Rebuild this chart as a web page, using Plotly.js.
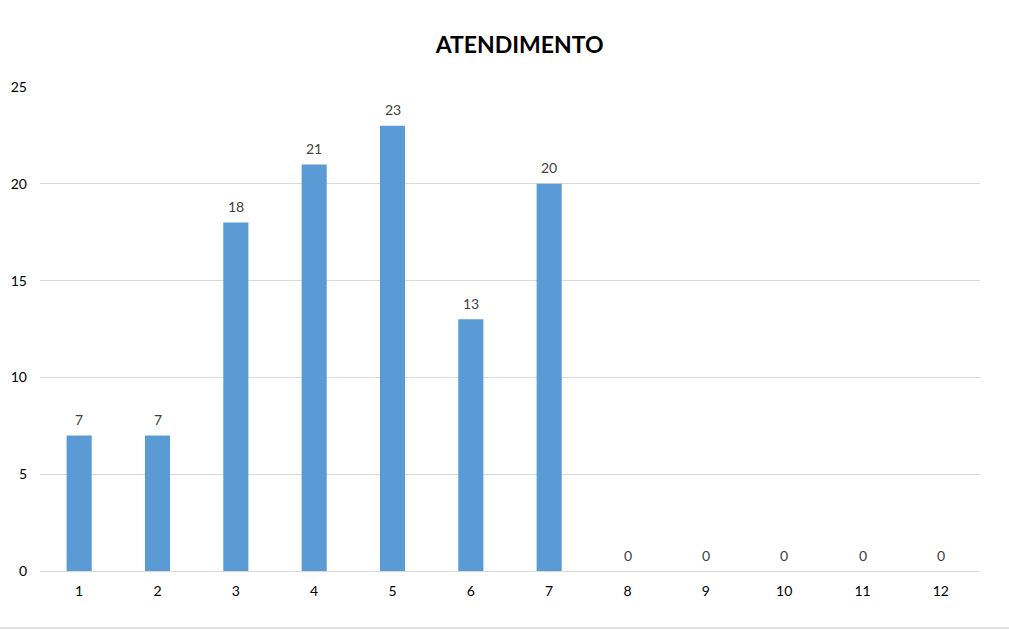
<!DOCTYPE html>
<html>
<head>
<meta charset="utf-8">
<script src="https://cdn.plot.ly/plotly-3.0.1.min.js"></script>
<style>
  html, body { margin: 0; padding: 0; background: #fff; }
  #chart { width: 1009px; height: 630px; }
</style>
</head>
<body>
<div id="chart"></div>
<script>
// ATENDIMENTO per category
const categories = ['1', '2', '3', '4', '5', '6', '7', '8', '9', '10', '11', '12'];
const atendimentos = [7, 7, 18, 21, 23, 13, 20, 0, 0, 0, 0, 0];
const yTicks = [0, 5, 10, 15, 20, 25];

const FONT = 'Lato, "Open Sans", "Liberation Sans", sans-serif';

// value labels above each bar (x given as category index)
const labels = categories.map((c, i) => ({
    x: i,
    y: atendimentos[i],
    text: String(atendimentos[i]),
    showarrow: false,
    yanchor: 'middle',
    yshift: 16,
    font: { family: FONT, size: 14, color: '#404040' }
}));

Plotly.newPlot('chart', [
    {
        type: 'bar',
        x: categories,
        y: atendimentos,
        marker: { color: '#5b9bd5' },
        hoverinfo: 'x+y'
    }
], {
    width: 1009,
    height: 630,
    paper_bgcolor: '#fff',
    plot_bgcolor: '#fff',
    font: { family: FONT, color: '#000', size: 14 },
    margin: { l: 40, r: 29, t: 87, b: 59 },
    bargap: 0.68,
    title: {
        text: '<b>ATENDIMENTO</b>',
        font: { family: FONT, size: 23, color: '#000' },
        xref: 'container', yref: 'container',
        x: 0.515, y: 0.929,
        xanchor: 'center', yanchor: 'middle'
    },
    xaxis: {
        type: 'category',
        showgrid: false,
        showline: true,
        linecolor: '#d9d9d9',
        linewidth: 1,
        ticks: '',
        ticklen: 0,
        ticklabelstandoff: 7,
        tickfont: { family: FONT, size: 14, color: '#000' }
    },
    yaxis: {
        range: [0, 25],
        tickvals: yTicks,
        showgrid: true,
        gridcolor: '#d9d9d9',
        gridwidth: 1,
        zeroline: false,
        showline: false,
        ticks: '',
        ticklabelstandoff: 12,
        tickfont: { family: FONT, size: 14, color: '#000' }
    },
    annotations: labels,
    shapes: [
        {
            type: 'line',
            xref: 'paper', yref: 'paper',
            x0: -40 / 940, x1: 969 / 940,
            y0: -57 / 484, y1: -57 / 484,
            line: { color: '#d9d9d9', width: 1.5 }
        }
    ],
    showlegend: false
}, { displayModeBar: false, responsive: false });
</script>
</body>
</html>
